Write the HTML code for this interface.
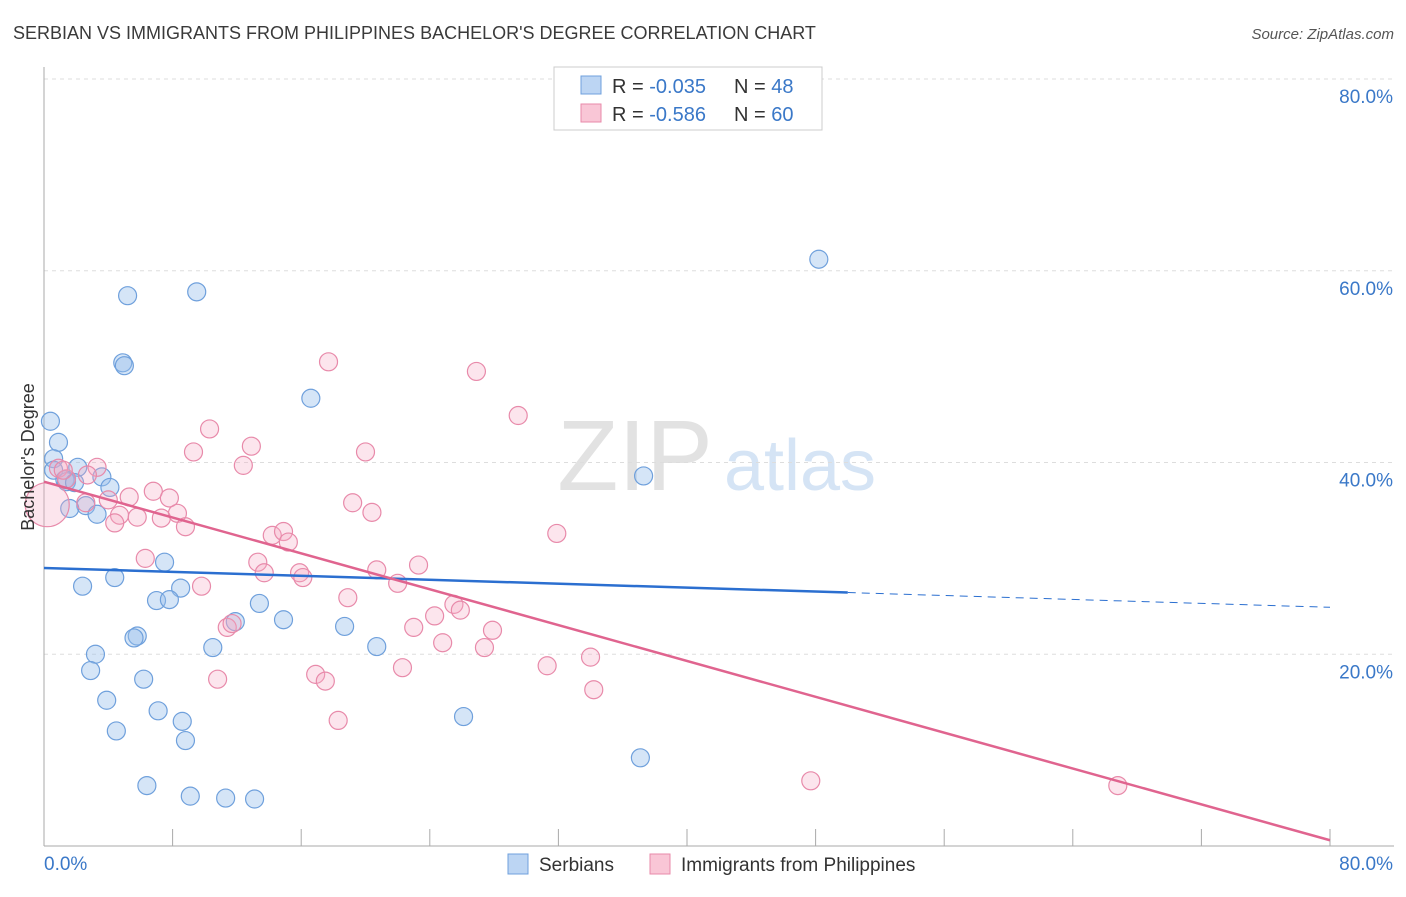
<!DOCTYPE html>
<html><head><meta charset="utf-8"><style>
body{margin:0;background:#fff;font-family:"Liberation Sans",sans-serif;}
svg text{font-family:"Liberation Sans",sans-serif;}
</style></head><body>
<svg id="chart" width="1406" height="892" xmlns="http://www.w3.org/2000/svg">
<text x="13" y="39" font-size="18" fill="#3a3a3a">SERBIAN VS IMMIGRANTS FROM PHILIPPINES BACHELOR'S DEGREE CORRELATION CHART</text>
<text x="1394" y="39" font-size="15" fill="#555" font-style="italic" text-anchor="end">Source: ZipAtlas.com</text>
<g>
<text x="635" y="490" font-size="100" fill="#e2e2e2" font-family="Liberation Serif" text-anchor="middle">ZIP</text>
<text x="800" y="490" font-size="72" fill="#d5e4f5" text-anchor="middle">atlas</text>
</g>
<g id="grid"></g>
<g id="axes"></g>
<g id="marks"></g>
<g id="trends"></g>
<g>
<rect x="554" y="67" width="268" height="63" fill="#fff" stroke="#ccc"/>
<rect x="581" y="76" width="20" height="18" fill="#bcd5f3" stroke="#6fa0dc"/>
<rect x="581" y="104" width="20" height="18" fill="#f9c6d6" stroke="#e88aaa"/>
<text x="612" y="93" font-size="20" fill="#333">R = <tspan fill="#3a78c8">-0.035</tspan></text>
<text x="734" y="93" font-size="20" fill="#333">N = <tspan fill="#3a78c8">48</tspan></text>
<text x="612" y="121" font-size="20" fill="#333">R = <tspan fill="#3a78c8">-0.586</tspan></text>
<text x="734" y="121" font-size="20" fill="#333">N = <tspan fill="#3a78c8">60</tspan></text>
</g>
<g>
<rect x="508" y="854" width="20" height="20" fill="#bcd5f3" stroke="#6fa0dc"/>
<text x="539" y="871" font-size="19" fill="#333">Serbians</text>
<rect x="650" y="854" width="20" height="20" fill="#f9c6d6" stroke="#e88aaa"/>
<text x="681" y="871" font-size="19" fill="#333">Immigrants from Philippines</text>
</g>
<text transform="translate(34,457) rotate(-90)" font-size="18" fill="#333" text-anchor="middle">Bachelor's Degree</text>
</svg>
<script>
const yTicks=[20,40,60,80];
const yTickLabels=["20.0%","40.0%","60.0%","80.0%"];
const xTickCount=10;
const serbX=[48.2,5.2,9.5,4.9,5.0,16.6,0.4,0.9,0.6,0.6,1.3,2.1,3.6,4.1,2.6,1.6,3.3,37.3,7.5,2.4,4.4,8.5,7.0,7.8,13.4,11.9,14.9,18.7,5.8,5.6,10.5,20.7,3.2,2.9,6.2,3.9,7.1,8.6,26.1,4.5,8.8,37.1,6.4,9.1,11.3,13.1,1.4,1.9];
const serbY=[61.2,57.4,57.8,50.4,50.1,46.7,44.3,42.1,40.4,39.2,38.2,39.5,38.5,37.4,35.5,35.2,34.6,38.6,29.6,27.1,28.0,26.9,25.6,25.7,25.3,23.4,23.6,22.9,21.9,21.7,20.7,20.8,20.0,18.3,17.4,15.2,14.1,13.0,13.5,12.0,11.0,9.2,6.3,5.2,5.0,4.9,38.0,37.9];
const philX=[17.7,26.9,29.5,10.3,12.9,9.3,20.0,12.4,3.3,0.9,2.7,1.4,6.8,5.3,7.8,4.0,19.2,0.2,20.4,4.7,5.8,8.3,7.3,4.4,8.8,14.2,14.9,15.2,31.9,6.3,13.3,23.3,13.7,15.9,16.1,20.7,22.0,9.8,18.9,25.5,25.9,24.3,27.9,23.0,11.4,11.7,24.8,27.4,31.3,34.0,22.3,16.9,17.5,10.8,34.2,18.3,47.7,66.8,1.2,2.6];
const philY=[50.5,49.5,44.9,43.5,41.7,41.1,41.1,39.7,39.5,39.4,38.7,38.3,37.0,36.4,36.3,36.1,35.8,35.6,34.8,34.5,34.3,34.7,34.2,33.7,33.3,32.4,32.8,31.7,32.6,30.0,29.6,29.3,28.5,28.5,28.0,28.8,27.4,27.1,25.9,25.2,24.6,24.0,22.5,22.8,22.8,23.2,21.2,20.7,18.8,19.7,18.6,17.9,17.2,17.4,16.3,13.1,6.8,6.3,39.2,35.8];
const serbTrend=[29.0,-0.0513];
const philTrend=[38.0,-0.4675];
const NS="http://www.w3.org/2000/svg";
const X0=44,X1=1330,Y0=846,Y1=79;
function sx(v){return X0+(X1-X0)*v/80;}
function sy(v){return Y0-(Y0-Y1)*v/80;}
function mk(t,a,p){const e=document.createElementNS(NS,t);for(const k in a)e.setAttribute(k,a[k]);p.appendChild(e);return e;}
const grid=document.getElementById('grid'),axes=document.getElementById('axes'),marks=document.getElementById('marks'),trends=document.getElementById('trends');
yTicks.forEach((t,i)=>{
 const l=mk('line',{x1:X0,x2:1394,y1:sy(t),y2:sy(t),stroke:'#ddd','stroke-dasharray':'4,4'},grid);
 
 
 const tx=mk('text',{x:1393,y:sy(t)+24,'font-size':19,fill:'#3a78c8','text-anchor':'end'},axes);
 tx.textContent=yTickLabels[i];
 
 
});
const ax=mk('line',{x1:X0,x2:1394,y1:Y0,y2:Y0,stroke:'#aaa'},axes);


const ay=mk('line',{x1:X0,x2:X0,y1:67,y2:Y0,stroke:'#aaa'},axes);


for(let i=1;i<=xTickCount;i++){
 const v=80*i/xTickCount;
 const t=mk('line',{x1:sx(v),x2:sx(v),y1:Y0,y2:Y0-17,stroke:'#aaa'},axes);
 
 
}
const xl0=mk('text',{x:44,y:870,'font-size':19,fill:'#3a78c8'},axes);xl0.textContent='0.0%';


const xl1=mk('text',{x:1393,y:870,'font-size':19,fill:'#3a78c8','text-anchor':'end'},axes);xl1.textContent='80.0%';


serbX.forEach((x,i)=>{
 const c=mk('circle',{cx:sx(x),cy:sy(serbY[i]),r:9,fill:'rgba(150,190,235,0.4)',stroke:'#6fa0dc','stroke-width':1.2},marks);
 
 
});
philX.forEach((x,i)=>{
 const c=mk('circle',{cx:sx(x),cy:sy(philY[i]),r:i===17?22:9,fill:'rgba(246,170,195,0.3)',stroke:'#e88aaa','stroke-width':1.2},marks);
 
 
});
function ty(tr,x){return tr[0]+tr[1]*x;}
const b1=mk('line',{x1:sx(0),y1:sy(ty(serbTrend,0)),x2:sx(50),y2:sy(ty(serbTrend,50)),stroke:'#2b6fd0','stroke-width':2.5},trends);


const b2=mk('line',{x1:sx(50),y1:sy(ty(serbTrend,50)),x2:sx(80),y2:sy(ty(serbTrend,80)),stroke:'#2b6fd0','stroke-width':1,'stroke-dasharray':'8,6'},trends);


const p1=mk('line',{x1:sx(0),y1:sy(ty(philTrend,0)),x2:sx(80),y2:sy(ty(philTrend,80)),stroke:'#e0648f','stroke-width':2.5},trends);


</script>
</body></html>
